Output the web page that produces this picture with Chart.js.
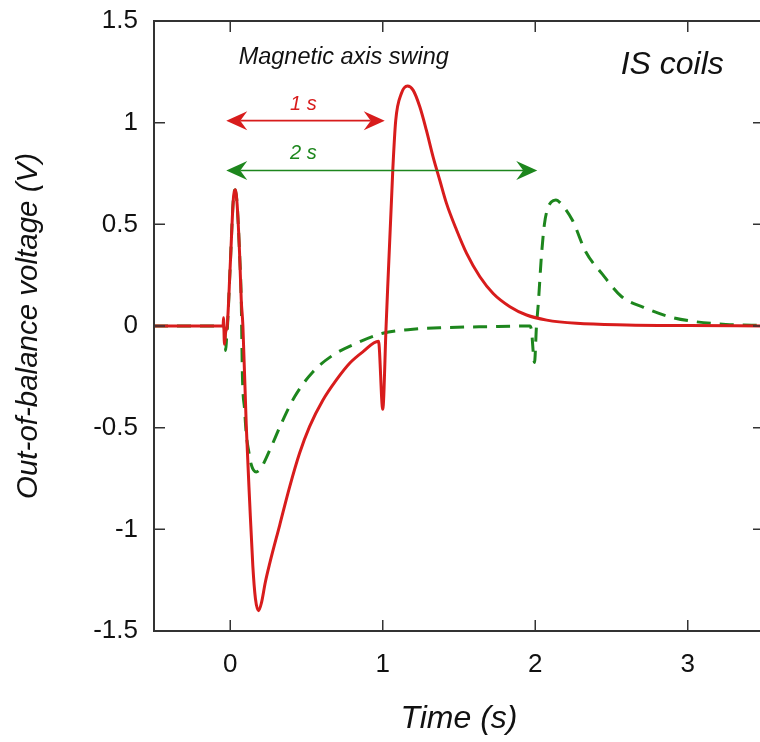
<!DOCTYPE html>
<html>
<head>
<meta charset="utf-8">
<title>IS coils</title>
<script src="https://cdn.jsdelivr.net/npm/chart.js@4.4.1/dist/chart.umd.min.js"></script>
<style>
  html, body { margin: 0; padding: 0; background: #fff; overflow: hidden; }
  #wrap { width: 770px; height: 742px; }
</style>
</head>
<body>
<div id="wrap"><canvas id="chart" width="770" height="742"></canvas></div>
<script>
'use strict';

// 1 s swing (solid red)
const redTime = [-0.5, -0.06, -0.047, -0.044, -0.038, -0.03, -0.02, 0, 0.022, 0.033, 0.045, 0.061, 0.072, 0.083,
  0.105, 0.127, 0.148, 0.165, 0.186, 0.205, 0.23, 0.258, 0.324, 0.39, 0.455, 0.52, 0.608, 0.696, 0.783, 0.871, 0.972,
  1.0, 1.022, 1.066, 1.085, 1.122, 1.162, 1.199, 1.243, 1.286, 1.33, 1.374, 1.418, 1.484, 1.55, 1.637, 1.724,
  1.834, 1.943, 2.075, 2.27, 2.6, 3.0, 3.5];
const redVolt = [0, 0, 0, 0.04, -0.09, -0.03, 0, 0.3, 0.64, 0.67, 0.6, 0.36, 0.13, 0,
  -0.49, -0.86, -1.18, -1.34, -1.4, -1.36, -1.26, -1.17, -0.98, -0.79, -0.625, -0.495, -0.364, -0.265, -0.183, -0.126, -0.075,
  -0.41, 0, 0.77, 1.01, 1.143, 1.18, 1.16, 1.078, 0.963, 0.832, 0.717, 0.603, 0.472, 0.357, 0.242, 0.16,
  0.095, 0.054, 0.029, 0.013, 0.005, 0.002, 0];

// 2 s swing (dashed green)
const greenTime = [-0.5, -0.045, -0.035, -0.03, -0.024, -0.018, 0, 0.022, 0.033, 0.045, 0.061, 0.072, 0.08,
  0.094, 0.105, 0.122, 0.137, 0.17, 0.2, 0.26, 0.336, 0.423, 0.543, 0.674, 0.826, 1.0, 1.166,
  1.4, 1.7, 1.965, 1.975, 1.995, 2.008, 2.02, 2.04, 2.06, 2.08, 2.105, 2.135, 2.165, 2.243, 2.331, 2.44, 2.567,
  2.71, 2.878, 3.053, 3.25, 3.5];
const greenVolt = [0, 0, -0.04, -0.12, -0.06, 0, 0.3, 0.64, 0.67, 0.6, 0.36, 0.13, -0.25,
  -0.41, -0.53, -0.62, -0.68, -0.718, -0.7, -0.609, -0.478, -0.347, -0.225, -0.143, -0.085, -0.036, -0.018,
  -0.008, -0.003, 0, -0.02, -0.18, 0, 0.11, 0.34, 0.5, 0.575, 0.61, 0.62, 0.605, 0.521, 0.365, 0.255, 0.144,
  0.092, 0.046, 0.021, 0.008, 0.003];

const X_TICKS = [0, 1, 2, 3];
const Y_TICKS = [-1.5, -1, -0.5, 0, 0.5, 1, 1.5];
const Y_TICK_LABELS = ['-1.5', '-1', '-0.5', '0', '0.5', '1', '1.5'];

// swing periods marked by the arrows
const SWING_PERIODS = [1, 2];
const SWING_LABELS = ['1 s', '2 s'];

const RED = '#d81c1c';
const GREEN = '#1d861d';
const AXIS_COLOR = '#333';
const TEXT_COLOR = '#111';
const FONT = '"Liberation Sans", Arial, Helvetica, sans-serif';
const TICK_LEN = 11;

const toPoints = (xs, ys) => xs.map((x, i) => ({ x, y: ys[i] }));

// inward ticks on all four sides + box frame
const framePlugin = {
  id: 'frame',
  afterDraw(chart) {
    const { ctx, chartArea: a, scales: { x, y } } = chart;
    ctx.save();
    ctx.strokeStyle = AXIS_COLOR;
    ctx.lineWidth = 1.5;
    ctx.beginPath();
    X_TICKS.forEach(v => {
      const px = x.getPixelForValue(v);
      ctx.moveTo(px, a.bottom); ctx.lineTo(px, a.bottom - TICK_LEN);
      ctx.moveTo(px, a.top); ctx.lineTo(px, a.top + TICK_LEN);
    });
    Y_TICKS.forEach(v => {
      const py = y.getPixelForValue(v);
      ctx.moveTo(a.left, py); ctx.lineTo(a.left + TICK_LEN, py);
      ctx.moveTo(a.right, py); ctx.lineTo(a.right - TICK_LEN, py);
    });
    ctx.stroke();
    ctx.lineWidth = 2;
    ctx.strokeRect(a.left, a.top, a.right - a.left, a.bottom - a.top);
    ctx.restore();
  }
};

function arrowHead(ctx, tipX, tipY, dir) {
  const len = 21, half = 9.5, notch = 14;
  ctx.beginPath();
  ctx.moveTo(tipX, tipY);
  ctx.lineTo(tipX + dir * len, tipY - half);
  ctx.lineTo(tipX + dir * notch, tipY);
  ctx.lineTo(tipX + dir * len, tipY + half);
  ctx.closePath();
  ctx.fill();
}

// double arrows for the swing periods and the text notes
const notesPlugin = {
  id: 'notes',
  afterDraw(chart) {
    const { ctx, scales: { x, y } } = chart;
    const arrowY = [1.01, 0.765];
    const colors = [RED, GREEN];
    ctx.save();
    SWING_PERIODS.forEach((p, i) => {
      const x0 = x.getPixelForValue(0) - 4;
      const x1 = x.getPixelForValue(p) + 2;
      const py = y.getPixelForValue(arrowY[i]);
      ctx.strokeStyle = colors[i];
      ctx.fillStyle = colors[i];
      ctx.lineWidth = 1.6;
      ctx.beginPath();
      ctx.moveTo(x0 + 14, py);
      ctx.lineTo(x1 - 14, py);
      ctx.stroke();
      arrowHead(ctx, x0, py, 1);
      arrowHead(ctx, x1, py, -1);
      ctx.font = `italic 20px ${FONT}`;
      ctx.textAlign = 'center';
      ctx.textBaseline = 'alphabetic';
      ctx.fillText(SWING_LABELS[i], x.getPixelForValue(0.48), py - 11);
    });

    ctx.fillStyle = TEXT_COLOR;
    ctx.textAlign = 'left';
    ctx.font = `italic 23.5px ${FONT}`;
    ctx.fillText('Magnetic axis swing', x.getPixelForValue(0.055), y.getPixelForValue(1.29));
    ctx.font = `italic 32px ${FONT}`;
    ctx.fillText('IS coils', x.getPixelForValue(2.56), y.getPixelForValue(1.238));
    ctx.restore();
  }
};

function initChart() {
  new Chart(document.getElementById('chart'), {
    type: 'line',
    data: {
      datasets: [
        {
          label: '1 s',
          data: toPoints(redTime, redVolt),
          borderColor: RED,
          borderWidth: 3,
          pointRadius: 0,
          tension: 0.4,
          cubicInterpolationMode: 'monotone'
        },
        {
          label: '2 s',
          data: toPoints(greenTime, greenVolt),
          borderColor: GREEN,
          borderWidth: 3,
          borderDash: [14, 9],
          pointRadius: 0,
          tension: 0.4,
          cubicInterpolationMode: 'monotone'
        }
      ]
    },
    options: {
      responsive: false,
      animation: false,
      events: [],
      layout: { padding: { top: 21, right: 6, left: 0, bottom: 0 } },
      plugins: { legend: { display: false }, tooltip: { enabled: false } },
      scales: {
        x: {
          type: 'linear',
          min: -0.5,
          max: 3.5,
          afterBuildTicks: s => { s.ticks = X_TICKS.map(value => ({ value })); },
          afterFit: s => { s.height = 111; s.paddingLeft = 0; s.paddingRight = 0; },
          grid: { display: false, drawTicks: false },
          border: { display: false },
          ticks: {
            padding: 18,
            color: TEXT_COLOR,
            font: { family: FONT, size: 26 },
            maxRotation: 0,
            callback: v => String(v)
          },
          title: {
            display: true,
            text: 'Time (s)',
            color: TEXT_COLOR,
            font: { family: FONT, size: 32, style: 'italic' },
            padding: { top: 4, bottom: 4 }
          }
        },
        y: {
          type: 'linear',
          min: -1.5,
          max: 1.5,
          afterBuildTicks: s => { s.ticks = Y_TICKS.map(value => ({ value })); },
          afterFit: s => { s.width = 154; s.paddingTop = 0; s.paddingBottom = 0; },
          grid: { display: false, drawTicks: false },
          border: { display: false },
          ticks: {
            padding: 16,
            color: TEXT_COLOR,
            font: { family: FONT, size: 26 },
            callback: v => Y_TICK_LABELS[Y_TICKS.indexOf(v)]
          },
          title: {
            display: true,
            text: 'Out-of-balance voltage (V)',
            color: TEXT_COLOR,
            font: { family: FONT, size: 29.5, style: 'italic' },
            padding: { top: 11, bottom: 0 }
          }
        }
      }
    },
    plugins: [framePlugin, notesPlugin]
  });
}

initChart();
</script>
</body>
</html>
